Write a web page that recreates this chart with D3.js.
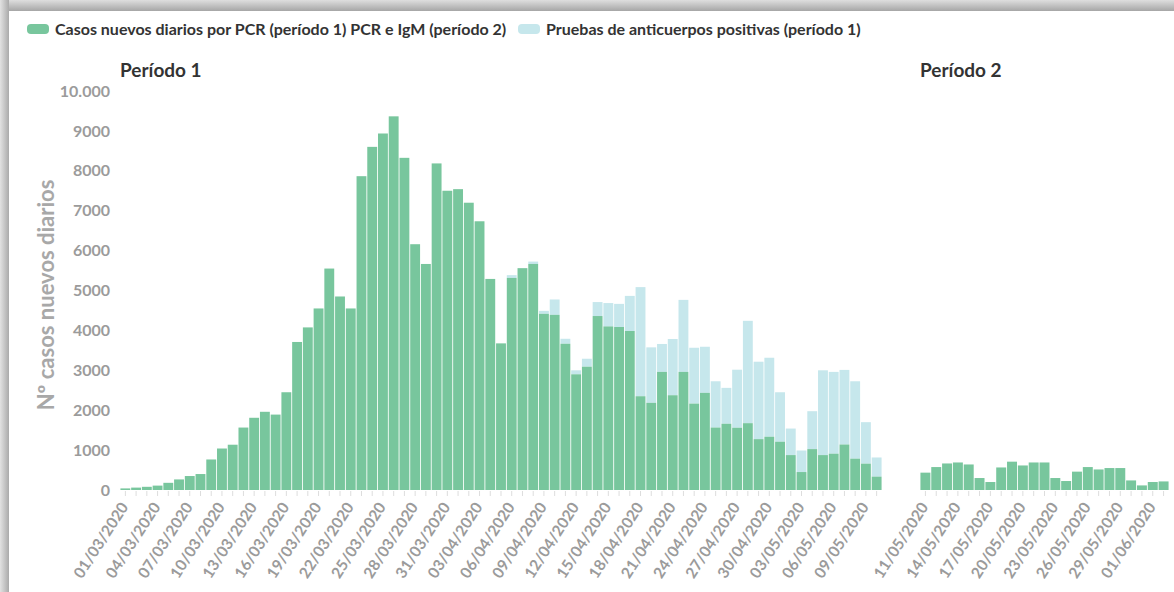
<!DOCTYPE html>
<html lang="es">
  <head>
    <meta charset="UTF-8" />
    <title>Casos nuevos diarios</title>
    <script src="https://cdn.jsdelivr.net/npm/d3@7"></script>
    <style>
      body { margin: 0; background: #fff; }
      svg { font-family: Lato, "Open Sans", sans-serif; }
    </style>
  </head>
  <body>
    <svg width="1174" height="592"></svg>
  </body>

  <script>
    // periodo 1: 01/03/2020 - 10/05/2020, periodo 2: 11/05/2020 - 02/06/2020
    var inicio1 = '2020-03-01', fin1 = '2020-05-10';
    var inicio2 = '2020-05-11', fin2 = '2020-06-02';

    // casos por PCR (periodo 1)
    var pcr1 = [40, 60, 80, 110, 180, 265, 350, 400, 765, 1040,
      1135, 1565, 1810, 1960, 1890, 2450, 3710, 4075, 4550, 5550,
      4850, 4550, 7865, 8600, 8935, 9365, 8325, 6160, 5665, 8185,
      7500, 7540, 7200, 6735, 5290, 3675, 5315, 5560, 5665, 4415,
      4390, 3665, 2900, 3090, 4360, 4100, 4085, 3985, 2350, 2185,
      2960, 2375, 2960, 2165, 2435, 1565, 1660, 1560, 1675, 1275,
      1335, 1210, 875, 450, 1025, 875, 910, 1140, 785, 660, 335];

    // pruebas de anticuerpos positivas (periodo 1)
    var anticuerpos1 = [0, 0, 0, 0, 0, 0, 0, 0, 0, 0,
      0, 0, 0, 0, 0, 0, 0, 0, 0, 0,
      0, 0, 0, 0, 0, 0, 0, 0, 0, 0,
      0, 0, 0, 0, 0, 0, 70, 0, 60, 75,
      385, 125, 100, 200, 350, 585, 580, 880, 2735, 1390,
      700, 1410, 1805, 1400, 1155, 1160, 900, 1455, 2565, 1940,
      1980, 1240, 665, 540, 950, 2125, 2050, 1870, 1940, 1040, 480];

    // PCR e IgM (periodo 2)
    var pcr2 = [435, 575, 665, 690, 640, 300, 200, 565, 710, 615,
      690, 690, 300, 225, 460, 575, 515, 550, 550, 240,
      115, 200, 215];

    var yTicks = [0, 1000, 2000, 3000, 4000, 5000, 6000, 7000, 8000, 9000, 10000];

    var fmtFecha = d3.utcFormat('%d/%m/%Y');
    var parse = d3.utcParse('%Y-%m-%d');
    var fechas1 = d3.utcDay.range(parse(inicio1), d3.utcDay.offset(parse(fin1), 1)).map(fmtFecha);
    var fechas2 = d3.utcDay.range(parse(inicio2), d3.utcDay.offset(parse(fin2), 1)).map(fmtFecha);

    var verde = '#78c69d';
    var celeste = '#c6e7ec';
    var gris = '#9b9b9b';

    var svg = d3.select('svg');

    // sombra del marco (arriba e izquierda)
    var defs = svg.append('defs');
    var gTop = defs.append('linearGradient').attr('id', 'sTop').attr('x1', 0).attr('y1', 0).attr('x2', 0).attr('y2', 1);
    gTop.append('stop').attr('offset', '0%').attr('stop-color', '#dedede');
    gTop.append('stop').attr('offset', '100%').attr('stop-color', '#a6a6a6');
    var gLeft = defs.append('linearGradient').attr('id', 'sLeft').attr('x1', 0).attr('y1', 0).attr('x2', 1).attr('y2', 0);
    gLeft.append('stop').attr('offset', '0%').attr('stop-color', '#e2e2e2');
    gLeft.append('stop').attr('offset', '100%').attr('stop-color', '#aaaaaa');
    svg.append('rect').attr('x', 0).attr('y', 0).attr('width', 1174).attr('height', 11).attr('fill', 'url(#sTop)');
    svg.append('rect').attr('x', 0).attr('y', 0).attr('width', 9).attr('height', 592).attr('fill', 'url(#sLeft)');

    // escalas
    var y = d3.scaleLinear().domain([0, 10000]).range([490, 91]);
    var x1 = d3.scaleBand().domain(fechas1).range([120, 882]).paddingInner(0.08).paddingOuter(0.04);
    var x2 = d3.scaleBand().domain(fechas2).range([920, 1169]).paddingInner(0.08).paddingOuter(0.04);

    // eje y
    var axisY = d3.axisLeft(y)
      .tickValues(yTicks)
      .tickSize(0)
      .tickPadding(0)
      .tickFormat(function (d) { return d === 10000 ? '10.000' : d; });
    var gy = svg.append('g').attr('transform', 'translate(110,0)').call(axisY);
    gy.select('.domain').remove();
    gy.selectAll('text').attr('fill', gris).attr('font-size', 16).attr('font-weight', 700)
      .attr('font-family', 'Lato, sans-serif');

    svg.append('text')
      .attr('transform', 'translate(54,295) rotate(-90)')
      .attr('text-anchor', 'middle')
      .attr('fill', '#a8a8a8')
      .attr('font-size', 22)
      .attr('font-weight', 700)
      .text('Nº casos nuevos diarios');

    // ejes x
    function ejeX(escala, fechas) {
      var axis = d3.axisBottom(escala)
        .tickSize(5)
        .tickSizeOuter(0)
        .tickFormat(function (d, i) { return i % 3 === 0 ? d : ''; });
      var g = svg.append('g').attr('transform', 'translate(0,491)').call(axis);
      g.select('.domain').remove();
      g.selectAll('.tick line').attr('stroke', '#dddddd');
      g.selectAll('.tick text')
        .attr('x', 0).attr('y', 0).attr('dy', '0.35em')
        .attr('text-anchor', 'end')
        .attr('transform', 'translate(-1,13) rotate(-57)')
        .attr('fill', gris)
        .attr('font-size', 15.5)
        .attr('font-weight', 700)
        .attr('font-family', 'Lato, sans-serif');
    }
    ejeX(x1, fechas1);
    ejeX(x2, fechas2);

    // barras periodo 1 (apiladas)
    var datos1 = fechas1.map(function (f, i) {
      return { fecha: f, pcr: pcr1[i], ac: anticuerpos1[i] };
    });
    var g1 = svg.append('g');
    g1.selectAll('rect.ac').data(datos1).enter().append('rect')
      .attr('class', 'ac')
      .attr('x', function (d) { return x1(d.fecha); })
      .attr('y', function (d) { return y(d.pcr + d.ac); })
      .attr('width', x1.bandwidth())
      .attr('height', function (d) { return y(d.pcr) - y(d.pcr + d.ac); })
      .attr('fill', celeste);
    g1.selectAll('rect.pcr').data(datos1).enter().append('rect')
      .attr('class', 'pcr')
      .attr('x', function (d) { return x1(d.fecha); })
      .attr('y', function (d) { return y(d.pcr); })
      .attr('width', x1.bandwidth())
      .attr('height', function (d) { return y(0) - y(d.pcr); })
      .attr('fill', verde);

    // barras periodo 2
    svg.append('g').selectAll('rect').data(pcr2).enter().append('rect')
      .attr('x', function (d, i) { return x2(fechas2[i]); })
      .attr('y', function (d) { return y(d); })
      .attr('width', x2.bandwidth())
      .attr('height', function (d) { return y(0) - y(d); })
      .attr('fill', verde);

    // titulos de periodo
    svg.append('text').attr('x', 120).attr('y', 77).attr('font-size', 19).attr('font-weight', 700)
      .attr('fill', '#333').text('Período 1');
    svg.append('text').attr('x', 920).attr('y', 77).attr('font-size', 19).attr('font-weight', 700)
      .attr('fill', '#333').text('Período 2');

    // leyenda
    var leyenda = [
      { texto: 'Casos nuevos diarios por PCR (período 1) PCR e IgM (período 2)', color: verde, x: 27 },
      { texto: 'Pruebas de anticuerpos positivas (período 1)', color: celeste, x: 518 }
    ];
    var gl = svg.append('g').selectAll('g').data(leyenda).enter().append('g')
      .attr('transform', function (d) { return 'translate(' + d.x + ',24)'; });
    gl.append('rect').attr('width', 22).attr('height', 10).attr('rx', 4).attr('fill', function (d) { return d.color; });
    gl.append('text').attr('x', 28).attr('y', 11).attr('font-size', 16).attr('font-weight', 700)
      .attr('fill', '#333').text(function (d) { return d.texto; });
  </script>
</html>
